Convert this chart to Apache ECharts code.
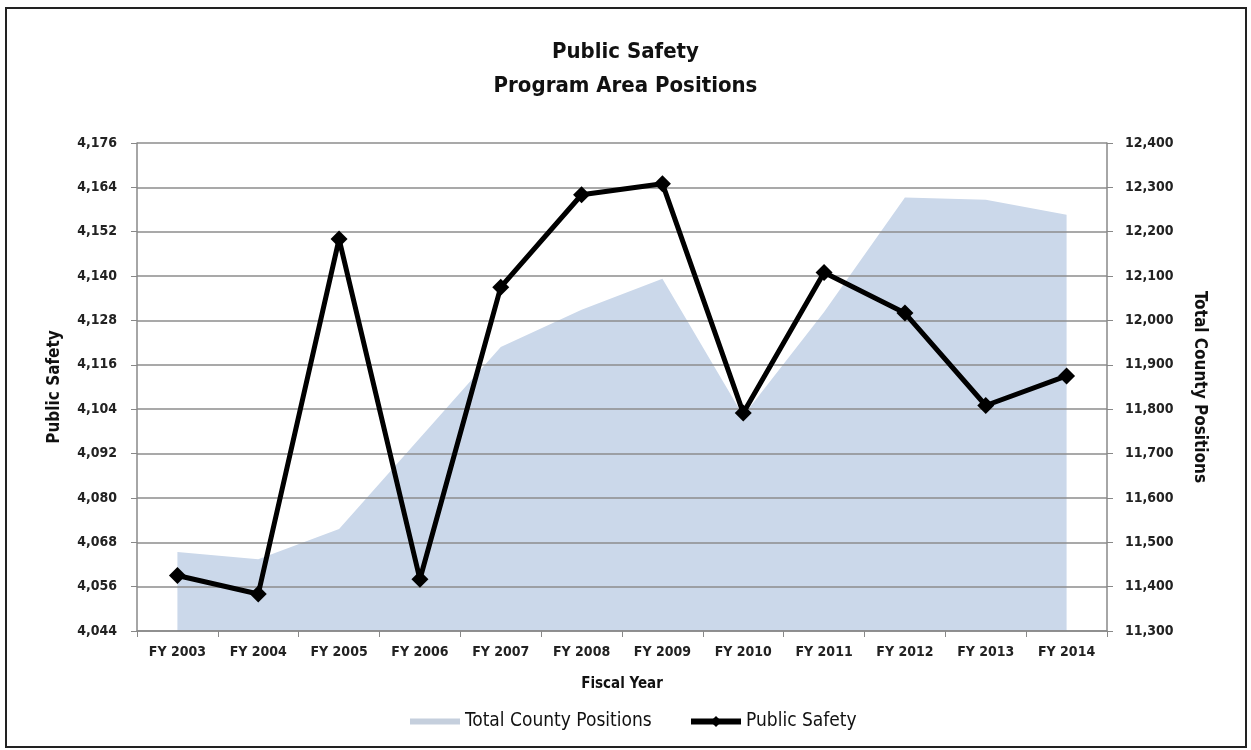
<!DOCTYPE html>
<html>
<head>
<meta charset="utf-8">
<script src="https://cdn.jsdelivr.net/npm/echarts@6/dist/echarts.min.js"></script>
<style>
html,body{margin:0;padding:0;background:#fff;}
#frame{position:absolute;left:5px;top:7px;width:1238px;height:737px;border:2px solid #222;box-sizing:content-box;}
#chart{position:absolute;left:0;top:0;width:1251px;height:750px;}
</style>
</head>
<body>
<div id="frame"></div>
<div id="chart"></div>
<script>
const categories = ['FY 2003','FY 2004','FY 2005','FY 2006','FY 2007','FY 2008','FY 2009','FY 2010','FY 2011','FY 2012','FY 2013','FY 2014'];
const publicSafety = [4059, 4054, 4150, 4058, 4137, 4162, 4165, 4103, 4141, 4130, 4105, 4113];
const totalCounty = [11478, 11462, 11530, 11735, 11940, 12024, 12094, 11785, 12019, 12277, 12272, 12238];
const leftTicks = {min: 4044, max: 4176, interval: 12};
const rightTicks = {min: 11300, max: 12400, interval: 100};

const FONT = "'Liberation Sans Narrow', 'Arial Narrow', 'DejaVu Sans Condensed', 'Roboto Condensed', sans-serif";
const fmt = v => v.toLocaleString('en-US');

const chart = echarts.init(document.getElementById('chart'), null, {renderer: 'canvas'});
chart.setOption({
  backgroundColor: 'transparent',
  animation: false,
  title: {
    text: 'Public Safety\nProgram Area Positions',
    left: 'center',
    top: 30,
    textStyle: {fontFamily: FONT, fontWeight: 'bold', fontSize: 22, lineHeight: 34, color: '#111'}
  },
  legend: [
    {
      data: ['Total County Positions'],
      left: 405, top: 707,
      icon: 'rect',
      itemWidth: 50, itemHeight: 6, itemGap: 5,
      itemStyle: {color: '#c5cfdd'},
      textStyle: {fontFamily: FONT, fontSize: 19, color: '#111'}
    },
    {
      data: ['Public Safety'],
      left: 683, top: 707,
      itemWidth: 50, itemHeight: 14, itemGap: 3,
      lineStyle: {width: 6, color: '#000'},
      textStyle: {fontFamily: FONT, fontSize: 19, color: '#111'}
    }
  ],
  grid: {left: 137, right: 144, top: 143, bottom: 119, containLabel: false},
  xAxis: {
    type: 'category',
    data: categories,
    boundaryGap: true,
    name: 'Fiscal Year',
    nameLocation: 'middle',
    nameGap: 46,
    nameTextStyle: {fontFamily: FONT, fontWeight: 'bold', fontSize: 15, color: '#111'},
    axisLine: {lineStyle: {color: '#888', width: 1.5}},
    axisTick: {show: true, length: 6, lineStyle: {color: '#888'}},
    axisLabel: {fontFamily: FONT, fontWeight: 'bold', fontSize: 14, color: '#222', margin: 14},
    splitLine: {show: false}
  },
  yAxis: [
    {
      type: 'value',
      position: 'left',
      min: leftTicks.min, max: leftTicks.max, interval: leftTicks.interval,
      name: 'Public Safety',
      nameLocation: 'middle',
      nameGap: 74,
      nameRotate: 90,
      nameTextStyle: {fontFamily: FONT, fontWeight: 'bold', fontSize: 17, color: '#111'},
      axisLine: {show: true, lineStyle: {color: '#888', width: 1.5}},
      axisTick: {show: true, length: 6, lineStyle: {color: '#888'}},
      axisLabel: {fontFamily: FONT, fontWeight: 'bold', fontSize: 14, color: '#222', margin: 20, formatter: fmt},
      splitLine: {show: true, lineStyle: {color: '#8c8c8c', width: 1.5}}
    },
    {
      type: 'value',
      position: 'right',
      min: rightTicks.min, max: rightTicks.max, interval: rightTicks.interval,
      name: 'Total County Positions',
      nameLocation: 'middle',
      nameGap: 84,
      nameRotate: -90,
      nameTextStyle: {fontFamily: FONT, fontWeight: 'bold', fontSize: 17, color: '#111'},
      axisLine: {show: true, lineStyle: {color: '#888', width: 1.5}},
      axisTick: {show: true, length: 6, lineStyle: {color: '#888'}},
      axisLabel: {fontFamily: FONT, fontWeight: 'bold', fontSize: 14, color: '#222', margin: 18, formatter: fmt},
      splitLine: {show: false}
    }
  ],
  series: [
    {
      name: 'Total County Positions',
      type: 'line',
      yAxisIndex: 1,
      data: totalCounty,
      z: -1,
      symbol: 'none',
      lineStyle: {width: 0, color: '#c9d6ea'},
      itemStyle: {color: '#c9d6ea'},
      areaStyle: {color: '#cbd8ea', opacity: 1}
    },
    {
      name: 'Public Safety',
      type: 'line',
      yAxisIndex: 0,
      data: publicSafety,
      z: 5,
      symbol: 'diamond',
      symbolSize: 17,
      lineStyle: {color: '#000', width: 5},
      itemStyle: {color: '#000'}
    }
  ]
});
</script>
</body>
</html>
